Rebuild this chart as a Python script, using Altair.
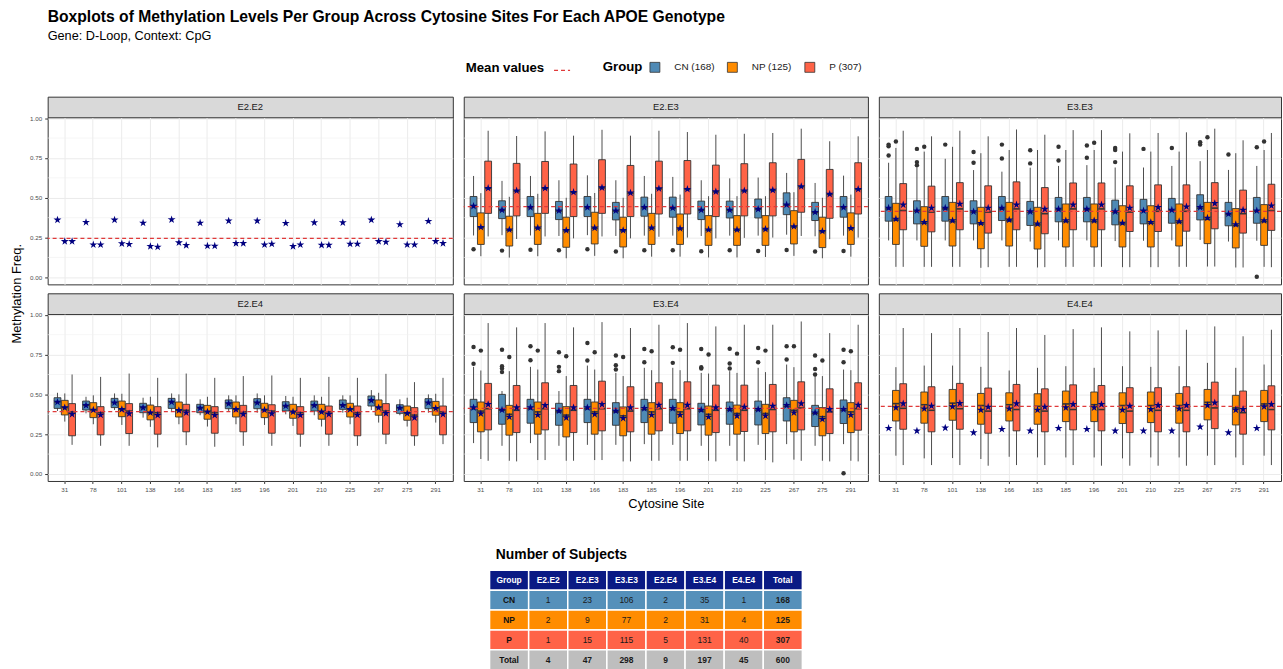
import altair as alt
import pandas as pd

FONT = "Liberation Sans"

SITES = ["31", "78", "101", "138", "166", "183", "185", "196", "201", "210", "225", "267", "275", "291"]
GROUPS = ["CN", "NP", "P"]
GROUP_LABELS = ["CN (168)", "NP (125)", "P (307)"]
GROUP_COLORS = ["#4F8AB5", "#FF8C00", "#FF6347"]
PANELS = ["E2.E2", "E2.E3", "E3.E3", "E2.E4", "E3.E4", "E4.E4"]
PANEL_MEAN = [0.245, 0.444, 0.415, 0.392, 0.4125, 0.425]
Y_TICKS = [0.0, 0.25, 0.5, 0.75, 1.0]
Y_MINOR = [0.125, 0.375, 0.625, 0.875]

# ---- group means only (groups with a single / two near-identical subjects) ----
E2E2_CN_MEAN = [0.361, 0.346, 0.361, 0.342, 0.363, 0.342, 0.355, 0.355, 0.340, 0.344, 0.344, 0.361, 0.332, 0.353]
E2E2_NP_MEAN = [0.226, 0.205, 0.212, 0.195, 0.218, 0.197, 0.214, 0.205, 0.195, 0.203, 0.210, 0.226, 0.205, 0.226]
E2E2_P_MEAN = [0.226, 0.205, 0.208, 0.191, 0.201, 0.197, 0.214, 0.210, 0.205, 0.203, 0.210, 0.222, 0.205, 0.214]
E4E4_CN_MEAN = [0.2875, 0.271, 0.290, 0.260, 0.281, 0.271, 0.2875, 0.281, 0.271, 0.271, 0.271, 0.296, 0.260, 0.2875]

# ---- box statistics per site: (lower whisker, q1, median, q3, upper whisker, mean) ----
E2E3_CN = [
    (0.263, 0.382, 0.445, 0.508, 0.637, 0.448), (0.265, 0.369, 0.420, 0.481, 0.606, 0.423),
    (0.263, 0.382, 0.438, 0.508, 0.637, 0.440), (0.260, 0.363, 0.417, 0.477, 0.610, 0.419),
    (0.265, 0.382, 0.438, 0.508, 0.641, 0.440), (0.260, 0.361, 0.417, 0.471, 0.610, 0.419),
    (0.262, 0.384, 0.438, 0.504, 0.637, 0.440), (0.262, 0.378, 0.434, 0.504, 0.631, 0.436),
    (0.260, 0.363, 0.421, 0.479, 0.610, 0.423), (0.262, 0.373, 0.421, 0.479, 0.622, 0.423),
    (0.262, 0.373, 0.427, 0.492, 0.627, 0.429), (0.268, 0.394, 0.454, 0.531, 0.656, 0.456),
    (0.258, 0.357, 0.407, 0.471, 0.593, 0.409), (0.262, 0.378, 0.438, 0.508, 0.639, 0.440)]
E2E3_NP = [
    (0.133, 0.207, 0.312, 0.405, 0.529, 0.315), (0.124, 0.197, 0.296, 0.384, 0.506, 0.299),
    (0.133, 0.207, 0.308, 0.402, 0.525, 0.311), (0.120, 0.189, 0.292, 0.378, 0.500, 0.295),
    (0.135, 0.210, 0.308, 0.409, 0.530, 0.311), (0.120, 0.191, 0.292, 0.378, 0.500, 0.295),
    (0.130, 0.207, 0.308, 0.402, 0.525, 0.311), (0.130, 0.207, 0.304, 0.398, 0.520, 0.307),
    (0.125, 0.201, 0.296, 0.388, 0.510, 0.299), (0.125, 0.201, 0.296, 0.388, 0.510, 0.299),
    (0.128, 0.201, 0.300, 0.388, 0.510, 0.303), (0.135, 0.210, 0.317, 0.419, 0.535, 0.320),
    (0.120, 0.187, 0.287, 0.378, 0.500, 0.290), (0.130, 0.207, 0.306, 0.405, 0.520, 0.309)]
E2E3_P = [
    (0.257, 0.402, 0.558, 0.730, 0.921, 0.560), (0.241, 0.386, 0.542, 0.716, 0.888, 0.544),
    (0.257, 0.402, 0.558, 0.728, 0.917, 0.560), (0.245, 0.382, 0.533, 0.712, 0.890, 0.535),
    (0.257, 0.402, 0.562, 0.739, 0.927, 0.564), (0.245, 0.382, 0.529, 0.703, 0.890, 0.531),
    (0.255, 0.398, 0.556, 0.730, 0.921, 0.558), (0.250, 0.398, 0.552, 0.734, 0.913, 0.554),
    (0.245, 0.382, 0.537, 0.705, 0.896, 0.539), (0.248, 0.386, 0.542, 0.714, 0.902, 0.544),
    (0.250, 0.386, 0.546, 0.720, 0.907, 0.548), (0.260, 0.409, 0.569, 0.741, 0.934, 0.571),
    (0.240, 0.371, 0.521, 0.678, 0.855, 0.523), (0.250, 0.398, 0.552, 0.720, 0.886, 0.554)]
E2E3_CN_OUT = [0.176, 0.168, 0.174, 0.170, 0.176, 0.163, 0.170, 0.170, 0.164, 0.170, 0.166, 0.172, 0.163, 0.166]

E3E3_CN = [
    (0.232, 0.353, 0.430, 0.508, 0.720, 0.436), (0.232, 0.336, 0.415, 0.481, 0.693, 0.419),
    (0.232, 0.353, 0.430, 0.508, 0.745, 0.436), (0.232, 0.336, 0.410, 0.481, 0.674, 0.413),
    (0.232, 0.357, 0.430, 0.508, 0.664, 0.436), (0.225, 0.326, 0.410, 0.477, 0.689, 0.413),
    (0.232, 0.349, 0.425, 0.502, 0.700, 0.429), (0.232, 0.349, 0.425, 0.502, 0.705, 0.429),
    (0.228, 0.330, 0.410, 0.485, 0.690, 0.413), (0.230, 0.336, 0.415, 0.490, 0.690, 0.419),
    (0.232, 0.340, 0.420, 0.496, 0.700, 0.423), (0.235, 0.361, 0.435, 0.519, 0.730, 0.440),
    (0.225, 0.324, 0.395, 0.471, 0.675, 0.398), (0.230, 0.340, 0.415, 0.502, 0.700, 0.419)]
E3E3_NP = [
    (0.066, 0.207, 0.360, 0.465, 0.813, 0.367), (0.066, 0.195, 0.340, 0.444, 0.790, 0.346),
    (0.066, 0.197, 0.350, 0.471, 0.820, 0.357), (0.060, 0.180, 0.335, 0.440, 0.780, 0.340),
    (0.066, 0.197, 0.355, 0.471, 0.800, 0.361), (0.062, 0.178, 0.330, 0.440, 0.800, 0.336),
    (0.066, 0.191, 0.350, 0.461, 0.800, 0.357), (0.066, 0.191, 0.350, 0.461, 0.800, 0.357),
    (0.064, 0.191, 0.336, 0.450, 0.790, 0.342), (0.064, 0.191, 0.340, 0.450, 0.790, 0.346),
    (0.066, 0.197, 0.345, 0.461, 0.790, 0.351), (0.068, 0.212, 0.365, 0.471, 0.800, 0.373),
    (0.062, 0.185, 0.325, 0.432, 0.780, 0.332), (0.066, 0.201, 0.350, 0.457, 0.800, 0.357)]
E3E3_P = [
    (0.066, 0.299, 0.420, 0.589, 0.921, 0.456), (0.066, 0.286, 0.410, 0.573, 0.886, 0.436),
    (0.066, 0.299, 0.430, 0.595, 0.921, 0.461), (0.064, 0.278, 0.410, 0.575, 0.886, 0.436),
    (0.066, 0.299, 0.430, 0.600, 0.929, 0.456), (0.064, 0.274, 0.400, 0.564, 0.896, 0.429),
    (0.066, 0.299, 0.430, 0.593, 0.925, 0.456), (0.066, 0.299, 0.430, 0.593, 0.925, 0.456),
    (0.064, 0.288, 0.410, 0.575, 0.905, 0.436), (0.064, 0.288, 0.415, 0.581, 0.907, 0.440),
    (0.066, 0.290, 0.415, 0.581, 0.911, 0.444), (0.068, 0.305, 0.435, 0.595, 0.934, 0.465),
    (0.062, 0.278, 0.400, 0.548, 0.861, 0.423), (0.064, 0.295, 0.420, 0.585, 0.907, 0.450)]
E3E3_OUT = [
    ("31", "CN", 0.834), ("31", "CN", 0.824), ("31", "CN", 0.766), ("31", "NP", 0.853),
    ("78", "CN", 0.807), ("78", "CN", 0.724), ("78", "CN", 0.705), ("78", "NP", 0.820),
    ("101", "CN", 0.834), ("138", "CN", 0.788), ("138", "CN", 0.720),
    ("166", "CN", 0.834), ("166", "CN", 0.747), ("183", "CN", 0.799), ("183", "CN", 0.716),
    ("185", "CN", 0.820), ("185", "CN", 0.734), ("196", "CN", 0.828), ("196", "CN", 0.751),
    ("196", "NP", 0.846), ("201", "CN", 0.813), ("201", "CN", 0.800), ("201", "CN", 0.724),
    ("210", "CN", 0.807), ("225", "CN", 0.813), ("267", "CN", 0.849), ("267", "CN", 0.834),
    ("267", "NP", 0.880), ("275", "CN", 0.772), ("291", "CN", 0.817), ("291", "NP", 0.853),
    ("291", "CN", 0.004)]

E2E4_CN = [
    (0.396, 0.412, 0.452, 0.479, 0.510, 0.452), (0.381, 0.402, 0.431, 0.458, 0.485, 0.431),
    (0.402, 0.417, 0.448, 0.475, 0.506, 0.448), (0.354, 0.385, 0.417, 0.444, 0.479, 0.417),
    (0.396, 0.412, 0.452, 0.475, 0.506, 0.452), (0.369, 0.385, 0.415, 0.4375, 0.469, 0.415),
    (0.390, 0.410, 0.442, 0.465, 0.494, 0.442), (0.385, 0.410, 0.448, 0.473, 0.506, 0.448),
    (0.375, 0.396, 0.427, 0.454, 0.490, 0.427), (0.369, 0.396, 0.431, 0.458, 0.494, 0.431),
    (0.385, 0.406, 0.431, 0.465, 0.494, 0.431), (0.402, 0.427, 0.4625, 0.490, 0.527, 0.4625),
    (0.369, 0.381, 0.415, 0.435, 0.469, 0.415), (0.385, 0.410, 0.448, 0.473, 0.500, 0.448)]
E2E4_NP = [
    (0.329, 0.371, 0.417, 0.4625, 0.506, 0.417), (0.3125, 0.354, 0.402, 0.448, 0.494, 0.402),
    (0.308, 0.360, 0.406, 0.458, 0.504, 0.406), (0.296, 0.340, 0.385, 0.433, 0.485, 0.385),
    (0.3125, 0.358, 0.400, 0.452, 0.500, 0.400), (0.298, 0.344, 0.390, 0.431, 0.485, 0.390),
    (0.3125, 0.358, 0.406, 0.452, 0.494, 0.406), (0.308, 0.354, 0.402, 0.444, 0.494, 0.402),
    (0.302, 0.350, 0.390, 0.4375, 0.485, 0.390), (0.298, 0.344, 0.390, 0.4375, 0.485, 0.390),
    (0.3125, 0.358, 0.406, 0.444, 0.494, 0.406), (0.323, 0.369, 0.417, 0.465, 0.510, 0.417),
    (0.298, 0.3375, 0.381, 0.427, 0.479, 0.381), (0.323, 0.369, 0.4125, 0.456, 0.504, 0.4125)]
E2E4_P = [
    (0.183, 0.240, 0.390, 0.442, 0.625, 0.375), (0.177, 0.246, 0.385, 0.423, 0.610, 0.371),
    (0.177, 0.254, 0.395, 0.442, 0.631, 0.379), (0.167, 0.250, 0.385, 0.423, 0.604, 0.369),
    (0.181, 0.265, 0.400, 0.4375, 0.631, 0.385), (0.171, 0.256, 0.385, 0.423, 0.604, 0.369),
    (0.177, 0.265, 0.390, 0.431, 0.615, 0.375), (0.177, 0.256, 0.395, 0.435, 0.619, 0.379),
    (0.171, 0.250, 0.385, 0.423, 0.604, 0.369), (0.177, 0.250, 0.390, 0.427, 0.610, 0.375),
    (0.177, 0.240, 0.385, 0.427, 0.604, 0.371), (0.1875, 0.250, 0.395, 0.442, 0.629, 0.381),
    (0.177, 0.240, 0.370, 0.417, 0.577, 0.354), (0.1875, 0.246, 0.390, 0.427, 0.604, 0.375)]

E3E4_CN = [
    (0.194, 0.323, 0.410, 0.469, 0.673, 0.417), (0.177, 0.3125, 0.400, 0.500, 0.521, 0.402),
    (0.194, 0.319, 0.410, 0.469, 0.673, 0.417), (0.177, 0.306, 0.390, 0.444, 0.521, 0.396),
    (0.183, 0.323, 0.410, 0.469, 0.681, 0.417), (0.183, 0.306, 0.390, 0.448, 0.635, 0.396),
    (0.1875, 0.323, 0.405, 0.469, 0.667, 0.4125), (0.183, 0.319, 0.405, 0.469, 0.667, 0.4125),
    (0.177, 0.308, 0.395, 0.444, 0.635, 0.402), (0.177, 0.3125, 0.400, 0.452, 0.646, 0.406),
    (0.183, 0.308, 0.400, 0.458, 0.667, 0.406), (0.1875, 0.333, 0.425, 0.479, 0.6875, 0.431),
    (0.177, 0.298, 0.380, 0.431, 0.615, 0.385), (0.1875, 0.317, 0.400, 0.465, 0.656, 0.406)]
E3E4_NP = [
    (0.094, 0.265, 0.395, 0.452, 0.650, 0.379), (0.083, 0.244, 0.375, 0.431, 0.646, 0.358),
    (0.0875, 0.250, 0.390, 0.452, 0.656, 0.371), (0.083, 0.233, 0.370, 0.423, 0.615, 0.354),
    (0.0875, 0.250, 0.390, 0.452, 0.656, 0.375), (0.079, 0.240, 0.365, 0.421, 0.615, 0.350),
    (0.083, 0.250, 0.390, 0.448, 0.652, 0.371), (0.083, 0.254, 0.390, 0.448, 0.652, 0.371),
    (0.083, 0.244, 0.375, 0.427, 0.631, 0.358), (0.083, 0.250, 0.380, 0.433, 0.635, 0.365),
    (0.0875, 0.254, 0.380, 0.4375, 0.640, 0.365), (0.090, 0.265, 0.400, 0.4625, 0.671, 0.385),
    (0.083, 0.240, 0.360, 0.417, 0.615, 0.344), (0.083, 0.260, 0.390, 0.448, 0.652, 0.371)]
E3E4_P = [
    (0.083, 0.277, 0.410, 0.569, 0.948, 0.4375), (0.079, 0.260, 0.400, 0.556, 0.921, 0.417),
    (0.0875, 0.277, 0.410, 0.573, 0.948, 0.431), (0.083, 0.260, 0.400, 0.556, 0.921, 0.417),
    (0.0875, 0.271, 0.410, 0.583, 0.954, 0.4375), (0.079, 0.265, 0.395, 0.548, 0.917, 0.417),
    (0.083, 0.271, 0.410, 0.573, 0.9375, 0.433), (0.083, 0.271, 0.410, 0.579, 0.948, 0.433),
    (0.079, 0.260, 0.400, 0.558, 0.927, 0.417), (0.079, 0.267, 0.400, 0.558, 0.9375, 0.421),
    (0.073, 0.265, 0.405, 0.5625, 0.9375, 0.427), (0.083, 0.277, 0.415, 0.579, 0.958, 0.442),
    (0.079, 0.254, 0.390, 0.535, 0.885, 0.406), (0.079, 0.275, 0.410, 0.573, 0.9375, 0.433)]
E3E4_OUT = [
    ("31", "CN", 0.798), ("31", "CN", 0.692), ("31", "NP", 0.775),
    ("78", "CN", 0.781), ("78", "CN", 0.677), ("78", "CN", 0.662), ("78", "CN", 0.640), ("78", "NP", 0.735),
    ("101", "CN", 0.802), ("101", "CN", 0.715), ("101", "NP", 0.775),
    ("138", "CN", 0.765), ("138", "CN", 0.673), ("138", "CN", 0.646), ("138", "NP", 0.740),
    ("166", "CN", 0.823), ("166", "CN", 0.7125), ("166", "NP", 0.765),
    ("183", "CN", 0.744), ("183", "CN", 0.683), ("183", "CN", 0.656), ("183", "NP", 0.735),
    ("185", "CN", 0.785), ("185", "CN", 0.702), ("185", "NP", 0.771),
    ("196", "CN", 0.796), ("196", "CN", 0.698), ("196", "NP", 0.781),
    ("201", "CN", 0.785), ("201", "CN", 0.671), ("201", "CN", 0.663), ("201", "NP", 0.750),
    ("210", "CN", 0.787), ("210", "CN", 0.694), ("210", "CN", 0.663), ("210", "NP", 0.756),
    ("225", "CN", 0.792), ("225", "CN", 0.702), ("225", "NP", 0.775),
    ("267", "CN", 0.802), ("267", "CN", 0.719), ("267", "NP", 0.802),
    ("275", "CN", 0.744), ("275", "CN", 0.660), ("275", "CN", 0.625), ("275", "NP", 0.713),
    ("291", "CN", 0.781), ("291", "CN", 0.702), ("291", "NP", 0.771), ("291", "CN", 0.004)]

E4E4_NP = [
    (0.115, 0.333, 0.442, 0.525, 0.671, 0.417), (0.098, 0.319, 0.435, 0.515, 0.681, 0.410),
    (0.100, 0.3375, 0.445, 0.531, 0.681, 0.423), (0.094, 0.3125, 0.430, 0.506, 0.673, 0.402),
    (0.108, 0.333, 0.435, 0.510, 0.650, 0.410), (0.104, 0.3125, 0.425, 0.504, 0.667, 0.402),
    (0.104, 0.329, 0.440, 0.521, 0.677, 0.417), (0.104, 0.329, 0.435, 0.515, 0.667, 0.417),
    (0.098, 0.317, 0.430, 0.510, 0.677, 0.402), (0.104, 0.323, 0.430, 0.515, 0.673, 0.406),
    (0.104, 0.319, 0.430, 0.506, 0.677, 0.410), (0.115, 0.340, 0.450, 0.531, 0.698, 0.431),
    (0.104, 0.308, 0.415, 0.494, 0.667, 0.402), (0.115, 0.329, 0.440, 0.525, 0.6875, 0.423)]
E4E4_P = [
    (0.056, 0.281, 0.4125, 0.567, 0.917, 0.442), (0.056, 0.265, 0.400, 0.548, 0.885, 0.427),
    (0.056, 0.281, 0.410, 0.569, 0.917, 0.444), (0.052, 0.256, 0.395, 0.540, 0.892, 0.421),
    (0.056, 0.271, 0.405, 0.5625, 0.917, 0.442), (0.056, 0.265, 0.395, 0.535, 0.873, 0.421),
    (0.056, 0.277, 0.405, 0.560, 0.910, 0.4375), (0.052, 0.271, 0.405, 0.556, 0.921, 0.4375),
    (0.052, 0.260, 0.395, 0.542, 0.896, 0.427), (0.052, 0.265, 0.400, 0.542, 0.902, 0.431),
    (0.052, 0.265, 0.400, 0.548, 0.906, 0.431), (0.056, 0.285, 0.415, 0.577, 0.927, 0.448),
    (0.056, 0.250, 0.385, 0.521, 0.865, 0.406), (0.056, 0.277, 0.405, 0.554, 0.906, 0.4375)]

# ---- subject counts table ----
TABLE_COLS = ["Group", "E2.E2", "E2.E3", "E3.E3", "E2.E4", "E3.E4", "E4.E4", "Total"]
TABLE_ROWS = ["Group", "CN", "NP", "P", "Total"]
CN_COUNTS = [1, 23, 106, 2, 35, 1, 168]
NP_COUNTS = [2, 9, 77, 2, 31, 4, 125]
P_COUNTS = [1, 15, 115, 5, 131, 40, 307]
TOTAL_COUNTS = [4, 47, 298, 9, 197, 45, 600]
ROW_FILLS = ["#0A1A84", "#5590BA", "#FF8C00", "#FF6347", "#BEBEBE"]

# ------------------------------------------------------------------
LABEL_OF = dict(zip(GROUPS, GROUP_LABELS))
box_sets = [
    ("E2.E3", "CN", E2E3_CN), ("E2.E3", "NP", E2E3_NP), ("E2.E3", "P", E2E3_P),
    ("E3.E3", "CN", E3E3_CN), ("E3.E3", "NP", E3E3_NP), ("E3.E3", "P", E3E3_P),
    ("E2.E4", "CN", E2E4_CN), ("E2.E4", "NP", E2E4_NP), ("E2.E4", "P", E2E4_P),
    ("E3.E4", "CN", E3E4_CN), ("E3.E4", "NP", E3E4_NP), ("E3.E4", "P", E3E4_P),
    ("E4.E4", "NP", E4E4_NP), ("E4.E4", "P", E4E4_P)]
mean_sets = [
    ("E2.E2", "CN", E2E2_CN_MEAN), ("E2.E2", "NP", E2E2_NP_MEAN), ("E2.E2", "P", E2E2_P_MEAN),
    ("E4.E4", "CN", E4E4_CN_MEAN)]

box_rows, mean_rows = [], []
for panel, grp, stats in box_sets:
    for site, (lo, q1, med, q3, hi, mn) in zip(SITES, stats):
        box_rows.append(dict(panel=panel, site=site, group=grp, label=LABEL_OF[grp],
                             lo=lo, q1=q1, med=med, q3=q3, hi=hi))
        mean_rows.append(dict(panel=panel, site=site, group=grp, mean=mn))
for panel, grp, vals in mean_sets:
    for site, mn in zip(SITES, vals):
        mean_rows.append(dict(panel=panel, site=site, group=grp, mean=mn))

out_rows = [dict(panel="E2.E3", site=s, group="CN", value=v) for s, v in zip(SITES, E2E3_CN_OUT)]
out_rows += [dict(panel="E3.E3", site=s, group=g, value=v) for s, g, v in E3E3_OUT]
out_rows += [dict(panel="E3.E4", site=s, group=g, value=v) for s, g, v in E3E4_OUT]

box_df = pd.DataFrame(box_rows)
mean_df = pd.DataFrame(mean_rows)
out_df = pd.DataFrame(out_rows)

STAR = ("M0,-1L0.2245,-0.309L0.951,-0.309L0.363,0.118L0.588,0.809L0,0.382"
        "L-0.588,0.809L-0.363,0.118L-0.951,-0.309L-0.2245,-0.309Z")

COLOR_LEGEND = alt.Legend(
    title="Group", orient="none", legendX=597, legendY=-35.5, direction="horizontal",
    titleOrient="left", titleFontSize=13.3, titleFontWeight="bold", titleColor="black",
    titleFont=FONT, labelFont=FONT, labelFontSize=10, labelColor="#1A1A1A",
    symbolType="square", symbolSize=100, symbolStrokeColor="#333333", symbolStrokeWidth=0.8,
    symbolOpacity=1, columnPadding=10, titlePadding=7, labelOffset=14, padding=0)
DASH_LEGEND = alt.Legend(
    title="Mean values", orient="none", legendX=459, legendY=-35.5, direction="horizontal",
    titleOrient="left", titleFontSize=13.3, titleFontWeight="bold", titleColor="black",
    titleFont=FONT, labelExpr="''", symbolType="stroke", symbolStrokeColor="#E03A3A",
    symbolStrokeWidth=1.3, symbolSize=260, titlePadding=8, padding=0)

PLOT_W = [408, 407, 405]
PLOT_H = 168
STRIP_H = 21


def make_panel(idx):
    name = PANELS[idx]
    row, col = divmod(idx, 3)
    width = PLOT_W[col]
    bottom = row == 1
    left = col == 0

    x_axis = alt.Axis(
        title="Cytosine Site" if (bottom and col == 1) else None,
        labels=bottom, ticks=bottom, domain=False, grid=True, gridColor="#EBEBEB",
        bandPosition=0.5, labelAngle=0, labelFontSize=6.3, labelColor="#4D4D4D",
        labelFont=FONT, tickColor="#333333", tickSize=2.5, labelPadding=3.5,
        titleFont=FONT, titleFontSize=13, titleFontWeight="normal", titleColor="black",
        titlePadding=4, minExtent=0)
    y_axis = alt.Axis(
        values=Y_TICKS, format=".2f", labels=left, ticks=left, domain=False, grid=True,
        gridColor="#EBEBEB", labelFontSize=6.3, labelColor="#4D4D4D", labelFont=FONT,
        tickColor="#333333", tickSize=3, labelPadding=3, title=None,
        minExtent=18 if left else 0, maxExtent=18 if left else 0)

    xs = alt.X("site:N", sort=SITES, axis=x_axis,
               scale=alt.Scale(domain=SITES, paddingInner=0.25, paddingOuter=0.225))
    xo = alt.XOffset("group:N", scale=alt.Scale(domain=GROUPS, paddingInner=0.07, paddingOuter=0))
    ys = alt.Scale(domain=[-0.044, 1.004], nice=False, zero=False)

    bdf = box_df[box_df.panel == name]
    mdf = mean_df[mean_df.panel == name]
    odf = out_df[out_df.panel == name]
    line_df = pd.DataFrame({"mean": [PANEL_MEAN[idx]], "ml": ["Mean values"]})
    minor_df = pd.DataFrame({"v": Y_MINOR})

    minor = alt.Chart(minor_df).mark_rule(color="#EFEFEF", strokeWidth=0.6).encode(
        y=alt.Y("v:Q", scale=ys, axis=y_axis))
    layers = [minor]
    base = alt.Chart(bdf)
    if len(bdf):
        whisk = base.mark_rule(color="#4D4D4D", strokeWidth=1).encode(
            x=xs, xOffset=xo, y=alt.Y("lo:Q", scale=ys), y2="hi:Q")
        box = base.mark_bar(stroke="#333333", strokeWidth=0.9, opacity=1).encode(
            x=xs, xOffset=xo, y=alt.Y("q1:Q", scale=ys), y2="q3:Q",
            color=alt.Color("label:N", scale=alt.Scale(domain=GROUP_LABELS, range=GROUP_COLORS),
                            legend=COLOR_LEGEND))
        med = base.mark_tick(color="#333333", thickness=1.6, size=6.3, orient="horizontal",
                             opacity=1).encode(x=xs, xOffset=xo, y=alt.Y("med:Q", scale=ys))
        layers += [whisk, box, med]
    if len(odf):
        outl = alt.Chart(odf).mark_circle(size=20, color="#333333", opacity=1).encode(
            x=xs, xOffset=xo, y=alt.Y("value:Q", scale=ys))
        layers.append(outl)
    mline = alt.Chart(line_df).mark_rule(color="#E03A3A", strokeWidth=1.3).encode(
        y=alt.Y("mean:Q", scale=ys),
        strokeDash=alt.StrokeDash("ml:N", scale=alt.Scale(domain=["Mean values"], range=[[4, 3]]),
                                  legend=DASH_LEGEND))
    stars = alt.Chart(mdf).mark_point(shape=STAR, filled=True, color="#000080", size=70,
                                      opacity=1, strokeWidth=0).encode(
        x=xs, xOffset=xo, y=alt.Y("mean:Q", scale=ys))
    layers += [mline, stars]

    plot = alt.layer(*layers).properties(
        width=width, height=PLOT_H,
        view=alt.ViewBackground(fill="white", stroke="#333333", strokeWidth=1))

    strip = alt.Chart(pd.DataFrame({"p": [name]})).mark_text(
        fontSize=9.5, color="#1A1A1A", font=FONT).encode(
        x=alt.X("p:N", axis=None), y=alt.Y("p:N", axis=None), text="p:N").properties(
        width=width, height=STRIP_H,
        view=alt.ViewBackground(fill="#D9D9D9", stroke="#333333", strokeWidth=1))
    return alt.vconcat(strip, plot, spacing=0, bounds="flush")


row1 = alt.hconcat(make_panel(0), make_panel(1), make_panel(2), spacing=7)
row2 = alt.hconcat(make_panel(3), make_panel(4), make_panel(5), spacing=7)
grid = alt.vconcat(row1, row2, spacing=7)

# shared y-axis title, centred on the two panel rows
ytitle = alt.Chart(pd.DataFrame({"t": ["Methylation Freq."]})).mark_text(
    angle=270, fontSize=13, font=FONT, color="black").encode(
    x=alt.X("t:N", axis=None), y=alt.Y("t:N", axis=None), text="t:N").properties(
    width=14, height=2 * (STRIP_H + PLOT_H) + 7 + 12, view=alt.ViewBackground(stroke=None))

# table
cells = []
for j, c in enumerate(TABLE_COLS):
    cells.append(dict(row="Group", col=c, txt=c, fill=ROW_FILLS[0], tc="white", bold=True))
for r, counts, fill in [("CN", CN_COUNTS, ROW_FILLS[1]), ("NP", NP_COUNTS, ROW_FILLS[2]),
                        ("P", P_COUNTS, ROW_FILLS[3]), ("Total", TOTAL_COUNTS, ROW_FILLS[4])]:
    cells.append(dict(row=r, col="Group", txt=r, fill=fill, tc="#111111", bold=True))
    for c, v in zip(TABLE_COLS[1:], counts):
        cells.append(dict(row=r, col=c, txt=str(v), fill=fill, tc="#1A1A1A",
                          bold=(r == "Total" or c == "Total")))
cells_df = pd.DataFrame(cells)

tx = alt.X("col:N", sort=TABLE_COLS, axis=None, scale=alt.Scale(paddingInner=0, paddingOuter=0))
ty = alt.Y("row:N", sort=TABLE_ROWS, axis=None, scale=alt.Scale(paddingInner=0, paddingOuter=0))
tbase = alt.Chart(cells_df)
t_rect = tbase.mark_rect(stroke="white", strokeWidth=1.5).encode(
    x=tx, y=ty, fill=alt.Fill("fill:N", scale=None))
t_norm = tbase.transform_filter("!datum.bold").mark_text(fontSize=8.5, font=FONT).encode(
    x=tx, y=ty, text="txt:N", fill=alt.Fill("tc:N", scale=None))
t_bold = tbase.transform_filter("datum.bold").mark_text(
    fontSize=8.5, font=FONT, fontWeight="bold").encode(
    x=tx, y=ty, text="txt:N", fill=alt.Fill("tc:N", scale=None))
table = alt.layer(t_rect, t_norm, t_bold).properties(
    width=315, height=100,
    title=alt.Title("Number of Subjects", anchor="start", fontSize=14, fontWeight="bold",
                    font=FONT, color="black", dx=7, offset=8),
    view=alt.ViewBackground(stroke=None))

spacer = alt.Chart(pd.DataFrame({"s": [""]})).mark_text().encode(text="s:N").properties(
    width=482, height=10, view=alt.ViewBackground(stroke=None))

top = alt.hconcat(ytitle, grid, spacing=5)
bottom = alt.hconcat(spacer, table, spacing=0)

chart = alt.vconcat(top, bottom, spacing=37).properties(
    title=alt.Title("Boxplots of Methylation Levels Per Group Across Cytosine Sites For Each APOE Genotype",
                    subtitle="Gene: D-Loop, Context: CpG", anchor="start", fontSize=15.8,
                    fontWeight="bold", font=FONT, color="black", subtitleFont=FONT,
                    subtitleFontSize=12.8, subtitleColor="black", subtitlePadding=5,
                    offset=17.5, dx=38, frame="bounds"),
    padding={"left": 10, "top": 6, "right": 0, "bottom": 0},
).configure_view(stroke=None).configure(background="white")

chart.save("out.html", embed_options={"renderer": "svg", "actions": False})
